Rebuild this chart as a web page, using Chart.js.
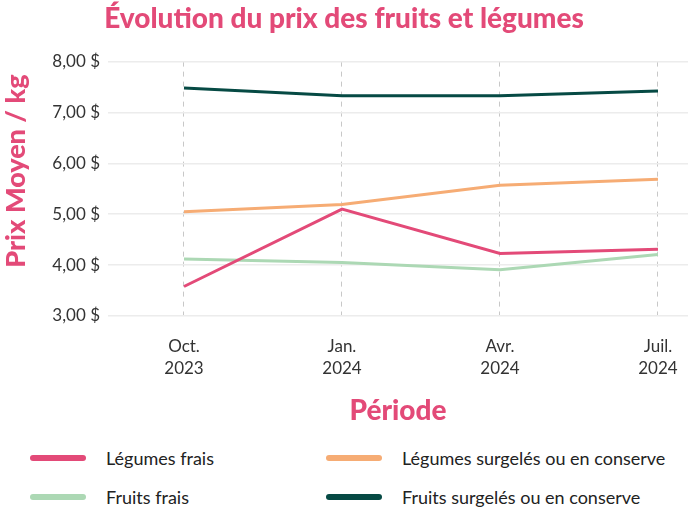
<!DOCTYPE html>
<html lang="fr">
<head>
<meta charset="utf-8">
<script src="https://cdn.jsdelivr.net/npm/chart.js@4.4.1/dist/chart.umd.min.js"></script>
<style>
  body { margin: 0; background: #fff; font-family: "Lato", sans-serif; }
  #wrap { position: relative; width: 688px; height: 510px; }
  #chart-box { position: absolute; left: 0; top: 0; width: 688px; height: 430px; }
  .leg-item { position: absolute; display: flex; align-items: center; font-size: 18px; color: #222; }
  .leg-swatch { width: 56px; height: 6px; border-radius: 3px; margin-right: 20px; }
</style>
</head>
<body>
<div id="wrap">
  <div id="chart-box"><canvas id="priceChart"></canvas></div>
  <div id="legend"></div>
</div>
<script>
const periods = [["Oct.", "2023"], ["Jan.", "2024"], ["Avr.", "2024"], ["Juil.", "2024"]];
const seriesNames = ["Légumes frais", "Légumes surgelés ou en conserve", "Fruits frais", "Fruits surgelés ou en conserve"];
const legumesFrais = [3.58, 5.10, 4.23, 4.31];
const legumesSurgeles = [5.05, 5.19, 5.57, 5.69];
const fruitsFrais = [4.12, 4.05, 3.91, 4.21];
const fruitsSurgeles = [7.48, 7.33, 7.33, 7.42];
const yTicks = [3, 4, 5, 6, 7, 8];

const colors = ["#e34a78", "#f6ac74", "#acd8b4", "#064a44"];
const pink = "#e34a78";

const allValues = [legumesFrais, legumesSurgeles, fruitsFrais, fruitsSurgeles];

const datasets = allValues.map((vals, i) => ({
  label: seriesNames[i],
  data: vals.map((v, idx) => ({ x: idx, y: v })),
  borderColor: colors[i],
  backgroundColor: colors[i],
  borderWidth: 3,
  pointRadius: 0,
  tension: 0
}));

const ctx = document.getElementById("priceChart").getContext("2d");
const chart = new Chart(ctx, {
  type: "line",
  data: { datasets: datasets },
  options: {
    responsive: true,
    maintainAspectRatio: false,
    animation: false,
    layout: { padding: { top: 0, right: 0, bottom: 0, left: 0 } },
    plugins: {
      legend: { display: false },
      tooltip: { enabled: false },
      title: {
        display: true,
        text: "Évolution du prix des fruits et légumes",
        color: pink,
        font: { family: "Lato", size: 28, weight: 900 },
        padding: { top: 2, bottom: 26 }
      }
    },
    scales: {
      x: {
        type: "linear",
        min: -0.481,
        max: 3.19,
        afterBuildTicks: (scale) => {
          scale.ticks = periods.map((p, i) => ({ value: i }));
        },
        afterFit: (scale) => {
          scale.height = 114;
          scale.paddingLeft = 0;
          scale.paddingRight = 0;
        },
        ticks: {
          color: "#333",
          font: { family: "Lato", size: 17, lineHeight: 1.3 },
          padding: 19,
          maxRotation: 0,
          callback: (value) => periods[value]
        },
        grid: {
          color: "#c8c8c8",
          lineWidth: 1,
          drawTicks: false
        },
        border: { display: false, dash: [5, 5] },
        title: {
          display: true,
          text: "Période",
          color: pink,
          font: { family: "Lato", size: 28, weight: 900 },
          padding: { top: 0, bottom: 2 }
        }
      },
      y: {
        min: 3,
        max: 8,
        afterBuildTicks: (scale) => {
          scale.ticks = yTicks.map((v) => ({ value: v }));
        },
        afterFit: (scale) => { scale.width = 108; },
        ticks: {
          color: "#333",
          font: { family: "Lato", size: 17 },
          padding: 8,
          callback: (value) => value.toFixed(2).replace(".", ",") + " $"
        },
        grid: {
          color: "#ececec",
          lineWidth: 1.5,
          drawTicks: false
        },
        border: { display: false },
        title: {
          display: true,
          text: "Prix Moyen / kg\u00a0\u00a0",
          color: pink,
          align: "end",
          font: { family: "Lato", size: 27, weight: 900 },
          padding: { top: 0, bottom: 2 }
        }
      }
    }
  }
});

// legend in two columns, under the chart
const legendPos = [[30, 458], [326, 458], [30, 497], [326, 497]];
const legendDiv = document.getElementById("legend");
chart.data.datasets.forEach((ds, i) => {
  const item = document.createElement("div");
  item.className = "leg-item";
  item.style.left = legendPos[i][0] + "px";
  item.style.top = (legendPos[i][1] - 11) + "px";
  item.innerHTML = `<span class="leg-swatch" style="background:${ds.borderColor}"></span><span>${ds.label}</span>`;
  legendDiv.appendChild(item);
});
</script>
</body>
</html>
